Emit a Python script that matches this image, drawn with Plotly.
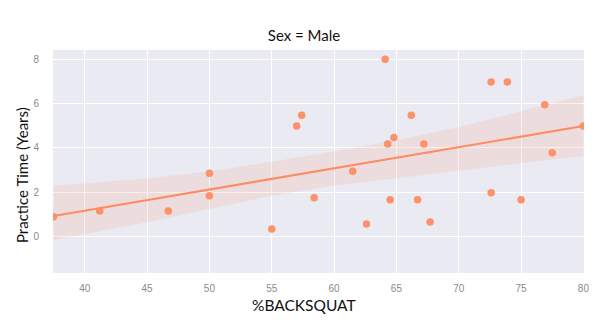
import plotly.graph_objects as go

# Data
backsquat = [37.5, 41.2, 46.7, 50.0, 50.0, 55.0, 57.0, 57.4, 58.4, 61.5,
             62.6, 64.1, 64.3, 64.5, 64.8, 66.2, 66.7, 67.2, 67.7, 72.6,
             72.6, 73.9, 75.0, 76.9, 77.5, 80.0]
practice = [0.9, 1.16, 1.16, 2.86, 1.85, 0.35, 4.99, 5.48, 1.76, 2.95,
            0.57, 8.0, 4.18, 1.67, 4.47, 5.48, 1.67, 4.18, 0.66, 6.98,
            1.98, 6.98, 1.67, 5.95, 3.79, 4.99]

fit_x = [37.5, 80.0]
fit_y = [0.93, 4.99]

band_x = [37.5, 45, 50, 55, 60, 65, 70, 75, 80]
band_upper = [2.30, 2.62, 2.95, 3.38, 3.85, 4.35, 4.95, 5.65, 6.38]
band_lower = [-0.15, 0.65, 1.25, 1.85, 2.30, 2.65, 3.00, 3.32, 3.64]

x_ticks = [40, 45, 50, 55, 60, 65, 70, 75, 80]
y_ticks = [0, 2, 4, 6, 8]

color = "#fc8d62"

fig = go.Figure()
fig.add_trace(go.Scatter(x=band_x, y=band_lower, mode="lines",
                         line=dict(width=0, color=color), hoverinfo="skip",
                         showlegend=False))
fig.add_trace(go.Scatter(x=band_x, y=band_upper, mode="lines", fill="tonexty",
                         fillcolor="rgba(252,141,98,0.15)",
                         line=dict(width=0, color=color), hoverinfo="skip",
                         showlegend=False))
fig.add_trace(go.Scatter(x=fit_x, y=fit_y, mode="lines",
                         line=dict(width=2.2, color=color), showlegend=False))
fig.add_trace(go.Scatter(x=backsquat, y=practice, mode="markers",
                         marker=dict(size=7.5, color=color, opacity=0.95),
                         showlegend=False))

fig.update_layout(
    width=602, height=327,
    margin=dict(l=53, r=18, t=50, b=54),
    paper_bgcolor="white",
    plot_bgcolor="#EAEAF2",
    title=dict(text="Sex = Male", x=304 / 602, xanchor="center", xref="container",
               y=0.89, yanchor="middle",
               font=dict(family="Lato", size=15, color="#111111")),
    font=dict(family="Liberation Sans"),
    annotations=[
        dict(text="%BACKSQUAT", xref="paper", yref="paper",
             x=(304 - 53) / 531, y=(273 - 305) / 223, xanchor="center",
             yanchor="middle", showarrow=False,
             font=dict(family="Lato", size=15.5, color="#111111")),
        dict(text="Practice Time (Years)", xref="paper", yref="paper",
             x=(22 - 53) / 531, y=(273 - 175) / 223, xanchor="center",
             yanchor="middle", textangle=-90, showarrow=False,
             font=dict(family="Lato", size=15, color="#111111")),
    ],
)
fig.update_xaxes(range=[37.45, 80.05], tickvals=x_ticks, showgrid=True,
                 gridcolor="white", gridwidth=1.2, zeroline=False, showline=False,
                 ticks="", ticklabelstandoff=8,
                 tickfont=dict(size=10, color="#8a8a8a"))
fig.update_yaxes(range=[-1.64, 8.42], tickvals=y_ticks, showgrid=True,
                 gridcolor="white", gridwidth=1.2, zeroline=False, showline=False,
                 ticks="", ticklabelstandoff=13,
                 tickfont=dict(size=10, color="#8a8a8a"))

fig.write_html("out.html")
